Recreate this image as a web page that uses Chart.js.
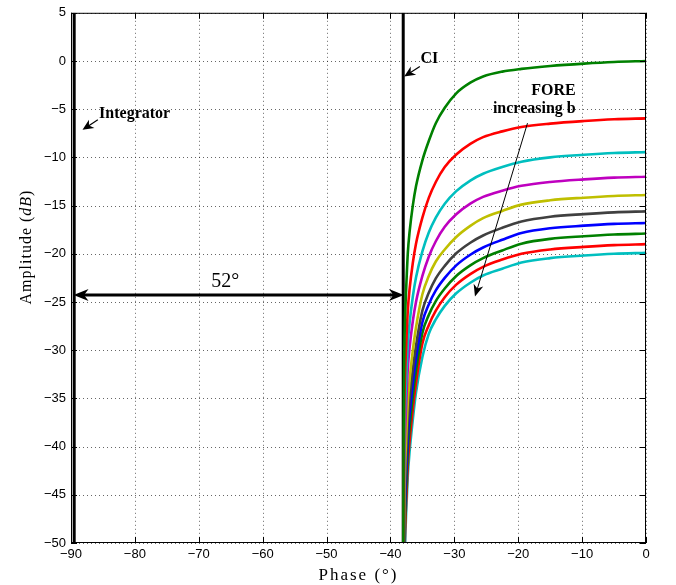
<!DOCTYPE html>
<html>
<head>
<meta charset="utf-8">
<style>
body{margin:0;background:#fff}
#wrap{width:676px;height:585px}
</style>
</head>
<body>
<div id="wrap"><canvas id="myChart" width="676" height="585"></canvas></div>
<script src="https://cdn.jsdelivr.net/npm/chart.js@4/dist/chart.umd.min.js"></script>
<script>
// axis ticks
const phaseTicks = [-90, -80, -70, -60, -50, -40, -30, -20, -10, 0];
const ampTicks = [5, 0, -5, -10, -15, -20, -25, -30, -35, -40, -45, -50];

// vertical reference lines
const integratorPhase = [-89.5, -89.5];
const integratorAmp = [-50, 5];
const ciPhase = [-38, -38];
const ciAmp = [-50, 5];

// FORE curves (increasing b) at these phases
const forePhase = [-37.99, -37.97, -37.94, -37.9, -37.83, -37.73, -37.55, -37.28, -37.0, -36.5, -36.0, -35.0,
                   -34.0, -32.9, -31.5, -29.7, -27.5, -25.5, -22.5, -19.5, -15, -9.7, -5, 0];
const fore1Amp = [-54, -45, -39, -34.5, -30, -27, -23.8, -19.9, -17.7, -15.0, -13.0, -10.3,
                  -8.3, -6.45, -4.85, -3.35, -2.25, -1.6, -1.1, -0.82, -0.52, -0.27, -0.1, 0];
const fore2Amp = [-59.95, -50.95, -44.95, -40.45, -35.95, -32.95, -29.75, -25.85, -23.65, -20.95, -18.95, -16.25,
                  -14.2, -12.55, -11.0, -9.7, -8.6, -7.9, -7.3, -6.85, -6.5, -6.23, -6.05, -5.95];
const fore3Amp = [-63.45, -54.45, -48.45, -43.95, -39.45, -36.45, -33.25, -29.35, -27.15, -24.45, -22.45, -19.75,
                  -17.8, -16.25, -14.8, -13.5, -12.4, -11.7, -11.0, -10.45, -10.0, -9.73, -9.55, -9.45];
const fore4Amp = [-66, -57, -51, -46.5, -42, -39, -35.8, -31.9, -29.7, -27, -25, -22.3,
                  -20.3, -18.7, -17.2, -15.9, -14.8, -14.1, -13.45, -12.95, -12.55, -12.28, -12.1, -12];
const fore5Amp = [-69.7, -60.7, -54.7, -50.2, -45.7, -42.7, -39.35, -35.4, -33.05, -30.05, -27.65, -24.2,
                  -22.3, -20.8, -19.55, -18.25, -17.1, -16.3, -15.55, -14.9, -14.45, -14.18, -14.0, -13.9];
const fore6Amp = [-71.9, -62.9, -56.9, -52.4, -47.9, -44.9, -41.5, -37.5, -35.1, -32.05, -29.55, -25.9,
                  -24.05, -22.55, -21.25, -19.95, -18.85, -18.1, -17.3, -16.65, -16.15, -15.88, -15.7, -15.6];
const fore7Amp = [-73.4, -64.4, -58.4, -53.9, -49.4, -46.4, -43.0, -39.05, -36.6, -33.5, -30.9, -27.1,
                  -25.25, -23.8, -22.5, -21.2, -20.1, -19.35, -18.55, -17.85, -17.35, -17.08, -16.9, -16.8];
const fore8Amp = [-74.9, -65.9, -59.9, -55.4, -50.9, -47.9, -44.45, -40.45, -38.0, -34.8, -32.15, -28.2,
                  -26.35, -24.9, -23.6, -22.3, -21.2, -20.45, -19.65, -18.95, -18.45, -18.18, -18.0, -17.9];
const fore9Amp = [-76.3, -67.3, -61.3, -56.8, -52.3, -49.3, -45.85, -41.85, -39.4, -36.1, -33.4, -29.3,
                  -27.4, -25.9, -24.5, -23.2, -22.1, -21.35, -20.6, -20.0, -19.55, -19.28, -19.1, -19.0];
const fore10Amp = [-77.5, -68.5, -62.5, -58.0, -53.5, -50.5, -47.0, -43.0, -40.5, -37.2, -34.4, -30.7,
                   -28.3, -26.8, -25.4, -24.1, -23.0, -22.25, -21.55, -20.9, -20.45, -20.18, -20.0, -19.9];

const foreAmps = [fore1Amp, fore2Amp, fore3Amp, fore4Amp, fore5Amp, fore6Amp, fore7Amp, fore8Amp, fore9Amp, fore10Amp];
const foreColors = ['#008000', '#ff0000', '#00bfbf', '#bf00bf', '#bfbf00', '#404040', '#0000ff', '#008000', '#ff0000', '#00bfbf'];

function pts(xs, ys) { return xs.map((x, i) => ({x: x, y: ys[i]})); }
const minus = v => String(v).replace('-', '\u2212');

const datasets = [
  {data: pts(integratorPhase, integratorAmp), borderColor: '#000', borderWidth: 3, order: 1},
  {data: pts(ciPhase, ciAmp), borderColor: '#000', borderWidth: 3, order: 1}
];
foreAmps.forEach((amp, i) => {
  datasets.push({data: pts(forePhase, amp), borderColor: foreColors[i], borderWidth: 2.6,
    cubicInterpolationMode: 'monotone', order: 0});
});

function head(ctx, x1, y1, x2, y2, len, half) {
  const a = Math.atan2(y2 - y1, x2 - x1), c = Math.cos(a), s = Math.sin(a);
  const bx = x2 - len * c, by = y2 - len * s;
  ctx.beginPath();
  ctx.moveTo(x2, y2);
  ctx.lineTo(bx - half * s, by + half * c);
  ctx.lineTo(x2 - len * 0.7 * c, y2 - len * 0.7 * s);
  ctx.lineTo(bx + half * s, by - half * c);
  ctx.closePath();
  ctx.fill();
}
function arrow(ctx, x1, y1, x2, y2, w, len, half) {
  const a = Math.atan2(y2 - y1, x2 - x1);
  ctx.lineWidth = w;
  ctx.beginPath();
  ctx.moveTo(x1, y1);
  ctx.lineTo(x2 - len * 0.6 * Math.cos(a), y2 - len * 0.6 * Math.sin(a));
  ctx.stroke();
  head(ctx, x1, y1, x2, y2, len, half);
}

const matlabAxes = {
  id: 'matlabAxes',
  beforeDatasetsDraw(chart) {
    const {ctx, chartArea: a, scales: {x, y}} = chart;
    ctx.save();
    ctx.strokeStyle = 'rgba(0,0,0,0.6)';
    ctx.lineWidth = 1;
    ctx.setLineDash([1, 3]);
    phaseTicks.forEach(v => {
      const px = Math.round(x.getPixelForValue(v)) + 0.5;
      ctx.beginPath(); ctx.moveTo(px, a.top); ctx.lineTo(px, a.bottom); ctx.stroke();
    });
    ampTicks.forEach(v => {
      const py = Math.round(y.getPixelForValue(v)) + 0.5;
      ctx.beginPath(); ctx.moveTo(a.left, py); ctx.lineTo(a.right, py); ctx.stroke();
    });
    ctx.restore();
  },
  afterDraw(chart) {
    const {ctx, chartArea: a, scales: {x, y}} = chart;
    const X = v => x.getPixelForValue(v), Y = v => y.getPixelForValue(v);
    ctx.save();
    ctx.strokeStyle = '#000';
    ctx.fillStyle = '#000';
    ctx.lineWidth = 1;
    ctx.strokeRect(a.left + 0.5, a.top + 0.5, a.right - a.left - 1, a.bottom - a.top - 1);
    ctx.beginPath();
    phaseTicks.forEach(v => {
      const px = Math.round(X(v)) + 0.5;
      ctx.moveTo(px, a.bottom); ctx.lineTo(px, a.bottom - 6);
      ctx.moveTo(px, a.top); ctx.lineTo(px, a.top + 6);
    });
    ampTicks.forEach(v => {
      const py = Math.round(Y(v)) + 0.5;
      ctx.moveTo(a.left, py); ctx.lineTo(a.left + 6, py);
      ctx.moveTo(a.right, py); ctx.lineTo(a.right - 6, py);
    });
    ctx.stroke();

    // axis titles
    ctx.textAlign = 'center';
    ctx.textBaseline = 'alphabetic';
    ctx.font = '17px "Liberation Serif"';
    ctx.letterSpacing = '2px';
    ctx.fillText('Phase (\u00b0)', (a.left + a.right) / 2, 580);
    ctx.save();
    ctx.translate(31, 247);
    ctx.rotate(-Math.PI / 2);
    ctx.letterSpacing = '1px';
    const p1 = 'Amplitude (', p2 = 'dB', p3 = ')';
    ctx.font = '16px "Liberation Serif"';
    const w1 = ctx.measureText(p1).width, w3 = ctx.measureText(p3).width;
    ctx.font = 'italic 16px "Liberation Serif"';
    const w2 = ctx.measureText(p2).width;
    const sx = -(w1 + w2 + w3) / 2;
    ctx.textAlign = 'left';
    ctx.font = '16px "Liberation Serif"';
    ctx.fillText(p1, sx, 0);
    ctx.font = 'italic 16px "Liberation Serif"';
    ctx.fillText(p2, sx + w1, 0);
    ctx.font = '16px "Liberation Serif"';
    ctx.fillText(p3, sx + w1 + w2, 0);
    ctx.restore();
    ctx.letterSpacing = '0px';

    // annotations
    ctx.font = 'bold 16px "Liberation Serif"';
    ctx.textAlign = 'left';
    ctx.fillText('Integrator', X(-85.6), Y(-5.9));
    arrow(ctx, X(-85.8), Y(-6.1), X(-88.2), Y(-7.14), 1.2, 11, 5);
    ctx.fillText('CI', X(-35.3), Y(-0.2));
    arrow(ctx, X(-35.4), Y(-0.57), X(-37.85), Y(-1.61), 1.2, 11, 5);
    ctx.textAlign = 'right';
    ctx.fillText('FORE', X(-11.0), Y(-3.5));
    ctx.fillText('increasing b', X(-11.0), Y(-5.38));
    arrow(ctx, X(-18.55), Y(-6.45), X(-26.77), Y(-24.44), 1, 12, 5);

    // 52 degree span
    const ya = Y(-24.27);
    const xl = X(-89.6), xr = X(-37.9);
    ctx.lineWidth = 3;
    ctx.beginPath(); ctx.moveTo(xl + 8, ya); ctx.lineTo(xr - 8, ya); ctx.stroke();
    head(ctx, xr - 20, ya, xr, ya, 15, 6);
    head(ctx, xl + 20, ya, xl, ya, 15, 6);
    ctx.font = '20px "Liberation Serif"';
    ctx.textAlign = 'center';
    ctx.fillText('52\u00b0', X(-65.85), Y(-23.43));
    ctx.restore();
  }
};

new Chart(document.getElementById('myChart'), {
  type: 'scatter',
  data: {datasets: datasets},
  options: {
    responsive: false,
    animation: false,
    showLine: true,
    layout: {padding: {left: 0, top: 12, right: 30, bottom: 0}},
    elements: {point: {radius: 0, hoverRadius: 0}, line: {fill: false}},
    plugins: {legend: {display: false}, tooltip: {enabled: false}},
    scales: {
      x: {
        type: 'linear', min: -90, max: 0,
        afterBuildTicks: s => { s.ticks = phaseTicks.map(v => ({value: v})); },
        afterFit: s => { s.height = 42; },
        grid: {display: false, drawTicks: false},
        border: {display: false},
        ticks: {color: '#000', font: {family: 'Liberation Sans', size: 13}, padding: 4,
          maxRotation: 0, autoSkip: false, callback: minus}
      },
      y: {
        type: 'linear', min: -50, max: 5,
        afterBuildTicks: s => { s.ticks = ampTicks.map(v => ({value: v})); },
        afterFit: s => { s.width = 71; },
        grid: {display: false, drawTicks: false},
        border: {display: false},
        ticks: {color: '#000', font: {family: 'Liberation Sans', size: 13}, padding: 5,
          autoSkip: false, callback: minus}
      }
    }
  },
  plugins: [matlabAxes]
});
</script>
</body>
</html>
